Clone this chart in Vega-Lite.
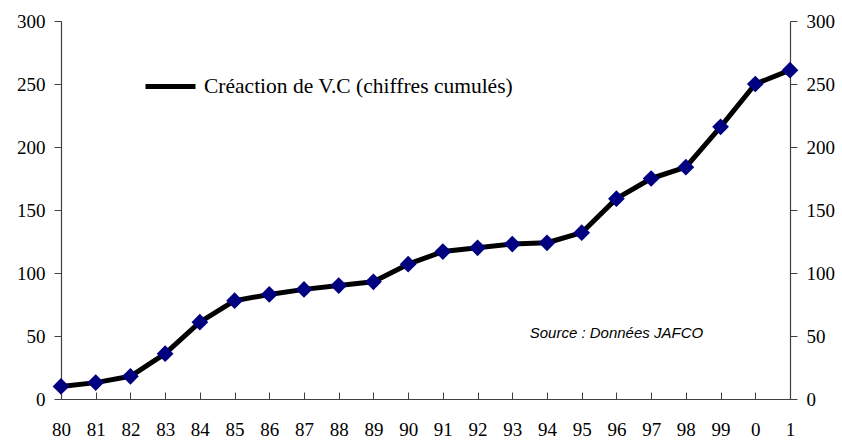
{
  "$schema": "https://vega.github.io/schema/vega-lite/v6.json",
  "width": 729,
  "height": 378,
  "autosize": {"type": "none"},
  "padding": {"left": 61, "top": 21, "right": 52, "bottom": 42},
  "background": "white",
  "config": {
    "view": {"stroke": null},
    "axis": {
      "labelFont": "Liberation Serif",
      "labelFontSize": 19,
      "labelColor": "black",
      "domainColor": "#404040",
      "tickColor": "#404040",
      "grid": false,
      "title": null
    }
  },
  "datasets": {
    "series": [
      {"year": "80", "value": 10},
      {"year": "81", "value": 13},
      {"year": "82", "value": 18},
      {"year": "83", "value": 36},
      {"year": "84", "value": 61},
      {"year": "85", "value": 78},
      {"year": "86", "value": 83},
      {"year": "87", "value": 87},
      {"year": "88", "value": 90},
      {"year": "89", "value": 93},
      {"year": "90", "value": 107},
      {"year": "91", "value": 117},
      {"year": "92", "value": 120},
      {"year": "93", "value": 123},
      {"year": "94", "value": 124},
      {"year": "95", "value": 132},
      {"year": "96", "value": 159},
      {"year": "97", "value": 175},
      {"year": "98", "value": 184},
      {"year": "99", "value": 216},
      {"year": "0", "value": 250},
      {"year": "1", "value": 261}
    ],
    "note": [
      {"label": "Source : Données JAFCO", "year": "96", "value": 52}
    ]
  },
  "data": {"name": "series"},
  "encoding": {
    "x": {
      "field": "year",
      "type": "ordinal",
      "sort": null,
      "scale": {"type": "point", "padding": 0},
      "axis": {"labelAngle": 0, "tickSize": -7, "labelPadding": 28, "domainWidth": 1.2}
    }
  },
  "layer": [
    {
      "mark": {"type": "line", "strokeWidth": 5, "strokeCap": "round", "strokeJoin": "round"},
      "encoding": {
        "y": {
          "field": "value",
          "type": "quantitative",
          "scale": {"domain": [0, 300], "nice": false},
          "axis": {"orient": "left", "values": [0, 50, 100, 150, 200, 250, 300], "tickSize": 7, "labelPadding": 9, "domainWidth": 1.2}
        },
        "color": {
          "datum": "Créaction de V.C (chiffres cumulés)",
          "type": "nominal",
          "scale": {"range": ["black"]},
          "legend": {
            "title": null,
            "orient": "none",
            "legendX": 82,
            "legendY": 38,
            "symbolType": "stroke",
            "symbolStrokeWidth": 5,
            "symbolSize": 2500,
            "labelFont": "Liberation Serif",
            "labelFontSize": 21.5,
            "labelColor": "black",
            "labelOffset": 6,
            "labelLimit": 500
          }
        }
      }
    },
    {
      "mark": {"type": "point", "shape": "diamond", "filled": true, "color": "#000080", "opacity": 1, "size": 280},
      "encoding": {
        "y": {
          "field": "value",
          "type": "quantitative",
          "axis": {"orient": "right", "values": [0, 50, 100, 150, 200, 250, 300], "tickSize": 7, "labelPadding": 9, "domainWidth": 1.2}
        }
      }
    },
    {
      "data": {"name": "note"},
      "mark": {"type": "text", "font": "Liberation Sans", "fontStyle": "italic", "fontSize": 15, "align": "center", "baseline": "middle", "color": "black"},
      "encoding": {
        "y": {"field": "value", "type": "quantitative", "axis": null},
        "text": {"field": "label"}
      }
    }
  ],
  "resolve": {"axis": {"y": "independent"}}
}
